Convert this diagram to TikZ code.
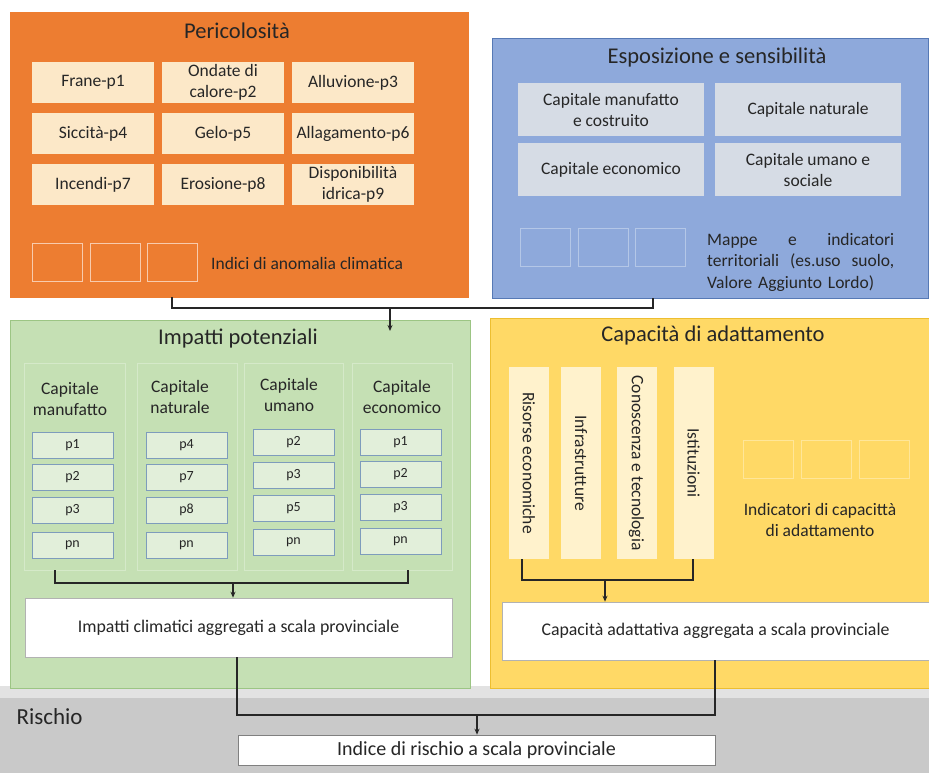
\documentclass[tikz,border=0pt]{standalone}
\usepackage{fontspec}
\setmainfont{Carlito}
\usepackage{tikz}
\usetikzlibrary{positioning,arrows.meta,calc}
\usepackage{xcolor}

\definecolor{hazfill}{HTML}{ED7D31}
\definecolor{hazcell}{HTML}{FCE8C8}
\definecolor{hazsq}{HTML}{F8CBAD}
\definecolor{expfill}{HTML}{8EA9DB}
\definecolor{expline}{HTML}{5679B5}
\definecolor{expcell}{HTML}{D6DCE5}
\definecolor{expsq}{HTML}{B4C7E7}
\definecolor{impfill}{HTML}{C5E0B4}
\definecolor{impline}{HTML}{9CC584}
\definecolor{impcol}{HTML}{D5E9C9}
\definecolor{impcell}{HTML}{E2EFDA}
\definecolor{impcellline}{HTML}{7E9CBC}
\definecolor{capfill}{HTML}{FFD966}
\definecolor{capline}{HTML}{EDBE30}
\definecolor{capcell}{HTML}{FFF2CC}
\definecolor{capsq}{HTML}{FFE699}
\definecolor{riskfill}{HTML}{C9C9C9}
\definecolor{riskstrip}{HTML}{E2E2E2}

\begin{document}
\begin{tikzpicture}[x=1pt,y=-1pt,>={Stealth[length=6pt,width=5pt]},
  panel/.style={draw,inner sep=0pt,line width=0.8pt},
  ptitle/.style={font=\fontsize{22.5}{26}\selectfont,text=black!85},
  cell/.style={inner sep=1pt,align=center,text=black!85,font=\fontsize{17.5}{21}\selectfont},
  hcell/.style={cell,fill=hazcell,minimum width=122pt,minimum height=41pt},
  ecell/.style={cell,fill=expcell,minimum width=186pt,minimum height=53pt},
  pcell/.style={cell,fill=impcell,draw=impcellline,line width=0.8pt,minimum width=81pt,minimum height=26pt,font=\fontsize{14}{16}\selectfont},
  vcell/.style={cell,fill=capcell,rotate=-90,minimum width=192pt,minimum height=40pt},
  sq/.style={draw=#1,line width=0.8pt,minimum width=50pt,minimum height=38pt,inner sep=0pt},
  aggbox/.style={cell,fill=white,draw=black!30,line width=0.6pt,font=\fontsize{17.8}{20}\selectfont},
  conn/.style={line width=1.2pt,draw=black!85}]

\useasboundingbox[fill=white] (0,0) rectangle (929,773);

% risk band at the bottom
\fill[riskfill] (0,686) rectangle (929,773);
\fill[riskstrip] (0,686) rectangle (929,698);
\node[anchor=west,font=\fontsize{23}{26}\selectfont,text=black!85] (risklbl) at (13,717) {Rischio};

% hazard
\node[panel,fill=hazfill,draw=hazfill,minimum width=458pt,minimum height=285pt] (haz) at (239,154.5) {};
\node[ptitle] (hazt) at (237,31) {Pericolosità};
\node[hcell] (h1) at (93,82.5) {Frane-p1};
\node[hcell] (h2) at (223,82.5) {Ondate di\\calore-p2};
\node[hcell] (h3) at (353,82.5) {Alluvione-p3};
\node[hcell] (h4) at (93,133.5) {Siccità-p4};
\node[hcell] (h5) at (223,133.5) {Gelo-p5};
\node[hcell] (h6) at (353,133.5) {Allagamento-p6};
\node[hcell] (h7) at (93,184.5) {Incendi-p7};
\node[hcell] (h8) at (223,184.5) {Erosione-p8};
\node[hcell] (h9) at (353,184.5) {Disponibilità\\idrica-p9};
\node[sq=hazsq] (hs1) at (57,262.5) {};
\node[sq=hazsq] (hs2) at (115,262.5) {};
\node[sq=hazsq] (hs3) at (172.5,262.5) {};
\node[cell,anchor=west] (hazi) at (210,263) {Indici di anomalia climatica};

% exposure
\node[panel,fill=expfill,draw=expline,minimum width=436pt,minimum height=260pt] (exp) at (710,168) {};
\node[ptitle] (expt) at (717,58) {Esposizione e sensibilità};
\node[ecell] (e1) at (611,109.5) {Capitale manufatto\\e costruito};
\node[ecell] (e2) at (808,109.5) {Capitale naturale};
\node[ecell] (e3) at (611,169.5) {Capitale economico};
\node[ecell] (e4) at (808,169.5) {Capitale umano e\\sociale};
\node[sq=expsq] (es1) at (545,247.5) {};
\node[sq=expsq] (es2) at (603,247.5) {};
\node[sq=expsq] (es3) at (660.5,247.5) {};
\node[cell,anchor=west,text width=187pt,align=left,font=\fontsize{17.5}{21.5}\selectfont] (expi) at (706,262)
  {Mappe\hfill e\hfill indicatori\\territoriali\hfill (es.uso\hfill suolo,\\Valore Aggiunto Lordo)};

% potential impacts
\node[panel,fill=impfill,draw=impline,minimum width=460pt,minimum height=368pt] (imp) at (240,504) {};
\node[ptitle] (impt) at (238,338) {Impatti potenziali};
\node[draw=impcol,line width=0.8pt,minimum width=101pt,minimum height=207pt] (g1) at (74.5,466.5) {};
\node[draw=impcol,line width=0.8pt,minimum width=100pt,minimum height=207pt] (g2) at (187,466.5) {};
\node[draw=impcol,line width=0.8pt,minimum width=99pt,minimum height=207pt] (g3) at (293.5,466.5) {};
\node[draw=impcol,line width=0.8pt,minimum width=100pt,minimum height=207pt] (g4) at (402,466.5) {};
\node[cell] (g1t) at (70,399) {Capitale\\manufatto};
\node[cell] (g2t) at (180,397) {Capitale\\naturale};
\node[cell] (g3t) at (289,395) {Capitale\\umano};
\node[cell] (g4t) at (402,397) {Capitale\\economico};
\node[pcell] (a1) at (72.5,445) {p1};
\node[pcell] (a2) at (72.5,477) {p2};
\node[pcell] (a3) at (72.5,510) {p3};
\node[pcell] (a4) at (72.5,545) {pn};
\node[pcell] (b1) at (186.5,445) {p4};
\node[pcell] (b2) at (186.5,477) {p7};
\node[pcell] (b3) at (186.5,510) {p8};
\node[pcell] (b4) at (186.5,545) {pn};
\node[pcell] (c1) at (293.5,442.5) {p2};
\node[pcell] (c2) at (293.5,475.5) {p3};
\node[pcell] (c3) at (293.5,508.5) {p5};
\node[pcell] (c4) at (293.5,542.5) {pn};
\node[pcell] (d1) at (400.5,442) {p1};
\node[pcell] (d2) at (400.5,474) {p2};
\node[pcell] (d3) at (400.5,507.5) {p3};
\node[pcell] (d4) at (400.5,541.5) {pn};
\node[aggbox,minimum width=427pt,minimum height=59pt] (agg1) at (238.5,627.5) {Impatti climatici aggregati a scala provinciale};

% adaptive capacity
\node[panel,fill=capfill,draw=capline,minimum width=439pt,minimum height=370pt] (cap) at (709.5,503) {};
\node[ptitle] (capt) at (713,335) {Capacità di adattamento};
\node[vcell] (v1) at (529,463) {Risorse economiche};
\node[vcell] (v2) at (581,463) {Infrastrutture};
\node[vcell] (v3) at (636.5,463) {Conoscenza e tecnologia};
\node[vcell] (v4) at (693.5,463) {Istituzioni};
\node[sq=capsq] (cs1) at (768,459) {};
\node[sq=capsq] (cs2) at (826,459) {};
\node[sq=capsq] (cs3) at (884,459) {};
\node[cell] (capi) at (820,520) {Indicatori di capacittà\\di adattamento};
\node[aggbox,minimum width=427pt,minimum height=58pt] (agg2) at (715.5,631) {Capacità adattativa aggregata a scala provinciale};

% risk index
\node[aggbox,draw=black!50,minimum width=477pt,minimum height=30pt,font=\fontsize{20}{22}\selectfont] (risk) at (476.5,750) {Indice di rischio a scala provinciale};

% connectors
\coordinate (hz) at (172,308);
\coordinate (ez) at (653,308);
\coordinate (iz) at (390,308);
\coordinate (izend) at (390,331);
\draw[conn] (hz |- haz.south) -- (hz) -- (ez) -- (ez |- exp.south);
\draw[conn,->] (iz) -- (izend);

\coordinate (gl) at (55,583);
\coordinate (gr) at (408,583);
\coordinate (gm) at (233,583);
\draw[conn] (gl |- g1.south) -- (gl) -- (gr) -- (gr |- g4.south);
\draw[conn,->] (gm) -- (gm |- agg1.north);

\coordinate (yl) at (522,580);
\coordinate (yr) at (693,580);
\coordinate (ym) at (605,580);
\draw[conn] (yl |- v1.east) -- (yl) -- (yr) -- (yr |- v4.east);
\draw[conn,->] (ym) -- (ym |- agg2.north);

\coordinate (kl) at (237,715);
\coordinate (kr) at (715,715);
\coordinate (km) at (477,715);
\draw[conn] (kl |- agg1.south) -- (kl) -- (kr) -- (kr |- agg2.south);
\draw[conn,->] (km) -- (km |- risk.north);
\end{tikzpicture}
\end{document}
